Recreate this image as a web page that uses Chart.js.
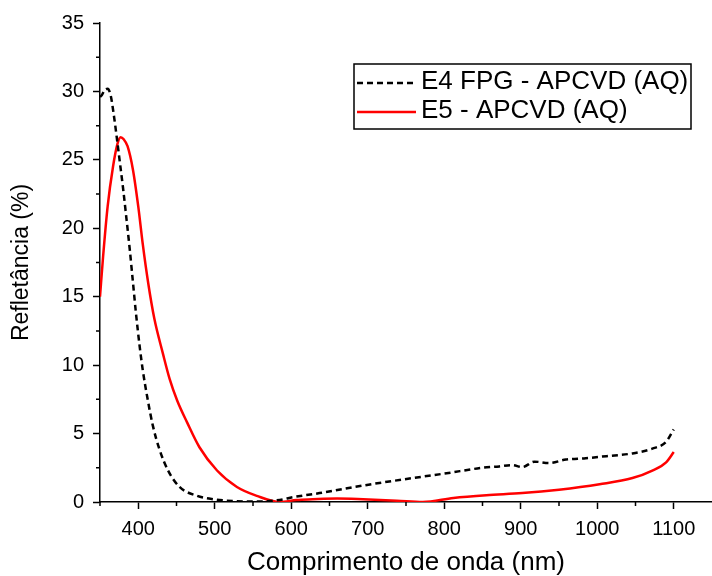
<!DOCTYPE html>
<html>
<head>
<meta charset="utf-8">
<script src="https://cdn.jsdelivr.net/npm/chart.js@4.4.1/dist/chart.umd.min.js"></script>
<style>
  html, body { margin: 0; padding: 0; background: #fff; }
  #wrap { width: 712px; height: 576px; }
</style>
</head>
<body>
<div id="wrap"><canvas id="reflChart" width="712" height="576"></canvas></div>
<script>
// E4 FPG - APCVD (AQ), dashed black
const e4Wavelength = [350, 352, 356, 360, 364, 368, 372, 376, 380, 384, 389, 393, 397, 402, 406, 412, 419, 428, 439, 454,
    477, 498, 524, 555, 585, 602, 637, 699, 759, 803, 850, 872, 889, 902, 918, 937, 959, 985, 1012, 1046,
    1072, 1090, 1100];
const e4Reflectance = [29.6, 29.7, 30.1, 30.2, 29.7, 28.3, 26.6, 24.8, 23.0, 21.0, 18.4, 16.1, 13.8, 11.3, 9.6, 7.6, 5.6, 3.8, 2.3, 1.1,
    0.45, 0.2, 0.07, 0.03, 0.15, 0.35, 0.65, 1.25, 1.75, 2.1, 2.5, 2.6, 2.7, 2.55, 2.95, 2.85, 3.1, 3.2, 3.35, 3.55,
    3.9, 4.4, 5.3];

// E5 - APCVD (AQ), red
const e5Wavelength = [350, 354, 360, 367, 373, 377, 381, 386, 393, 400, 406, 413, 421, 432, 441, 451, 464, 480, 503, 529,
    555, 585, 607, 628, 660, 694, 738, 772, 812, 855, 902, 950, 1003, 1046, 1072, 1090, 1100];
const e5Reflectance = [15.0, 17.9, 21.6, 24.5, 26.2, 26.65, 26.5, 26.0, 24.3, 21.6, 18.8, 16.0, 13.4, 10.9, 9.0, 7.4, 5.8, 4.0, 2.3, 1.1,
    0.45, 0.0, 0.15, 0.2, 0.25, 0.2, 0.1, 0.0, 0.3, 0.5, 0.65, 0.9, 1.3, 1.75, 2.3, 2.9, 3.65];

const seriesLabels = ["E4 FPG - APCVD (AQ)", "E5 - APCVD (AQ)"];
const xRange = [350, 1150];
const yRange = [0, 35];

const FONT = "'Liberation Sans', Arial, sans-serif";

function toPoints(xs, ys) {
    return xs.map((x, i) => ({ x: x, y: ys[i] }));
}

// short minor ticks + boxed legend
const extras = {
    id: "extras",
    afterDraw(chart) {
        const ctx = chart.ctx;
        const xs = chart.scales.x;
        const ys = chart.scales.y;
        ctx.save();
        ctx.strokeStyle = "#000";
        ctx.lineWidth = 1.5;
        ctx.beginPath();
        xs.ticks.forEach(t => {
            if (t.value % 100 !== 0 && t.value < xRange[1]) {
                const px = xs.getPixelForValue(t.value);
                ctx.moveTo(px, ys.bottom);
                ctx.lineTo(px, ys.bottom + 4);
            }
        });
        ys.ticks.forEach(t => {
            if (t.value % 5 !== 0) {
                const py = ys.getPixelForValue(t.value);
                ctx.moveTo(xs.left, py);
                ctx.lineTo(xs.left - 4, py);
            }
        });
        ctx.stroke();

        // legend box
        ctx.lineWidth = 1.5;
        ctx.strokeRect(354, 64, 337, 65);
        ctx.font = "26px " + FONT;
        ctx.textBaseline = "middle";
        ctx.fillStyle = "#000";
        chart.data.datasets.forEach((ds, i) => {
            const ly = 83 + i * 29;
            ctx.beginPath();
            ctx.strokeStyle = ds.borderColor;
            ctx.lineWidth = ds.borderWidth;
            ctx.setLineDash(ds.borderDash || []);
            ctx.moveTo(357, ly);
            ctx.lineTo(416, ly);
            ctx.stroke();
            ctx.setLineDash([]);
            ctx.fillText(ds.label, 421, ly - 1);
        });
        ctx.restore();
    }
};

const canvas = document.getElementById("reflChart");

const data = {
    datasets: [
        {
            label: seriesLabels[0],
            data: toPoints(e4Wavelength, e4Reflectance),
            borderColor: "#000000",
            borderWidth: 2.5,
            borderDash: [6, 4],
            pointRadius: 0,
            cubicInterpolationMode: "monotone",
            fill: false,
        },
        {
            label: seriesLabels[1],
            data: toPoints(e5Wavelength, e5Reflectance),
            borderColor: "#ff0000",
            borderWidth: 2.5,
            pointRadius: 0,
            cubicInterpolationMode: "monotone",
            fill: false,
        },
    ],
};

const config = {
    type: "line",
    data: data,
    options: {
        responsive: false,
        animation: false,
        layout: { padding: { top: 23, left: 0, right: 0, bottom: 0 } },
        plugins: {
            legend: { display: false },
            tooltip: { enabled: false },
        },
        scales: {
            x: {
                type: "linear",
                min: xRange[0],
                max: xRange[1],
                ticks: {
                    stepSize: 50,
                    autoSkip: false,
                    maxRotation: 0,
                    color: "#000",
                    padding: 8,
                    font: { family: FONT, size: 20 },
                    callback: v => (v % 100 === 0 ? String(v) : ""),
                },
                grid: {
                    drawOnChartArea: false,
                    drawTicks: true,
                    tickLength: 7,
                    tickWidth: 1.5,
                    tickColor: c => (c.tick && c.tick.value % 100 === 0 ? "#000" : "rgba(0,0,0,0)"),
                },
                border: { color: "#000", width: 1.5 },
                title: {
                    display: true,
                    text: "Comprimento de onda (nm)",
                    color: "#000",
                    font: { family: FONT, size: 26, lineHeight: 1 },
                    padding: { top: 0, bottom: 0 },
                },
                afterFit: s => {
                    s.height = 74;
                    s.paddingLeft = 0;
                    s.paddingRight = 0;
                },
            },
            y: {
                type: "linear",
                min: yRange[0],
                max: yRange[1],
                ticks: {
                    stepSize: 2.5,
                    autoSkip: false,
                    color: "#000",
                    padding: 9,
                    font: { family: FONT, size: 20 },
                    callback: v => (v % 5 === 0 ? String(v) : ""),
                },
                grid: {
                    drawOnChartArea: false,
                    drawTicks: true,
                    tickLength: 7,
                    tickWidth: 1.5,
                    tickColor: c => (c.tick && c.tick.value % 5 === 0 ? "#000" : "rgba(0,0,0,0)"),
                },
                border: { color: "#000", width: 1.5 },
                title: {
                    display: true,
                    text: "Refletância (%)",
                    color: "#000",
                    font: { family: FONT, size: 23, lineHeight: 1 },
                    padding: { top: 10, bottom: 0 },
                },
                afterFit: s => {
                    s.width = 100;
                    s.paddingTop = 0;
                    s.paddingBottom = 0;
                },
            },
        },
    },
    plugins: [extras],
};

new Chart(canvas, config);
</script>
</body>
</html>
